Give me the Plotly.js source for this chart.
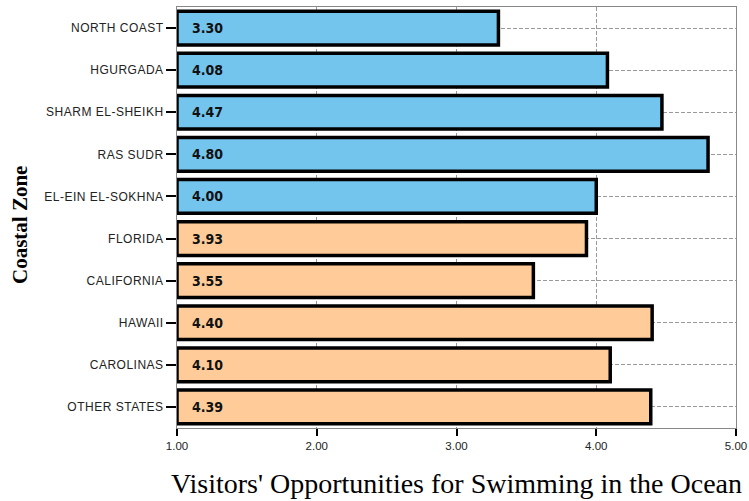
<!DOCTYPE html>
<html>
<head>
<meta charset="utf-8">
<script src="https://cdn.plot.ly/plotly-3.0.1.min.js"></script>
<style>
html,body{margin:0;padding:0;background:#fff;}
#chart{width:749px;height:501px;}
#chart .ytick text{letter-spacing:0.5px;}
</style>
</head>
<body>
<div id="chart"></div>
<script>
const egyptZones = ["NORTH COAST", "HGURGADA", "SHARM EL-SHEIKH", "RAS SUDR", "EL-EIN EL-SOKHNA"];
const egyptValues = [3.30, 4.08, 4.47, 4.80, 4.00];
const usZones = ["FLORIDA", "CALIFORNIA", "HAWAII", "CAROLINAS", "OTHER STATES"];
const usValues = [3.93, 3.55, 4.40, 4.10, 4.39];
const xTicks = [1, 2, 3, 4, 5];
const xTickLabels = ["1.00", "2.00", "3.00", "4.00", "5.00"];
const axisBase = 1;

const allZones = egyptZones.concat(usZones);
const allValues = egyptValues.concat(usValues);

function barTrace(zones, values, color) {
  return {
    type: "bar",
    orientation: "h",
    y: zones,
    x: values.map(v => v - axisBase),
    base: axisBase,
    width: 0.8,
    marker: {color: color, line: {color: "#000", width: 3.5}},
    cliponaxis: false,
    hoverinfo: "skip"
  };
}

const data = [
  barTrace(egyptZones, egyptValues, "#74C5EE"),
  barTrace(usZones, usValues, "#FFCC99")
];

const annotations = allZones.map((z, i) => ({
  x: axisBase, y: z, xref: "x", yref: "y",
  text: "<b>" + allValues[i].toFixed(2) + "</b>",
  showarrow: false, xanchor: "left", yanchor: "middle", xshift: 13,
  font: {family: "DejaVu Sans Condensed, DejaVu Sans", size: 14, color: "#111"}
}));

annotations.push({
  xref: "paper", yref: "paper", x: -0.281, y: 0.482,
  text: "<b>Coastal Zone</b>", textangle: -90, showarrow: false,
  xanchor: "center", yanchor: "middle",
  font: {family: "Liberation Serif", size: 21, color: "#000"}
});

const layout = {
  width: 749, height: 501,
  margin: {l: 177, r: 13, t: 7, b: 73},
  paper_bgcolor: "#fff", plot_bgcolor: "#fff",
  showlegend: false,
  bargap: 0.2,
  annotations: annotations,
  xaxis: {
    range: [1, 5],
    tickvals: xTicks, ticktext: xTickLabels,
    ticks: "outside", ticklen: 7, tickwidth: 2, tickcolor: "#000",
    showline: true, linecolor: "#888", linewidth: 1, mirror: true,
    showgrid: true, gridcolor: "#999", griddash: "4px,2px", gridwidth: 1,
    zeroline: false,
    tickfont: {family: "Liberation Sans", size: 11.5, color: "#222"},
    title: {text: "Visitors' Opportunities for Swimming in the Ocean",
            font: {family: "Liberation Serif", size: 28, color: "#000"}, standoff: 22}
  },
  yaxis: {
    type: "category",
    categoryorder: "array", categoryarray: allZones,
    autorange: "reversed",
    ticks: "outside", ticklen: 10, tickwidth: 2, tickcolor: "#000",
    showline: true, linecolor: "#888", linewidth: 1, mirror: true,
    showgrid: true, gridcolor: "#999", griddash: "4px,2px", gridwidth: 1,
    zeroline: false,
    tickfont: {family: "Liberation Sans", size: 12, color: "#222"}
  }
};

Plotly.newPlot("chart", data, layout, {displayModeBar: false, staticPlot: true});
</script>
</body>
</html>
